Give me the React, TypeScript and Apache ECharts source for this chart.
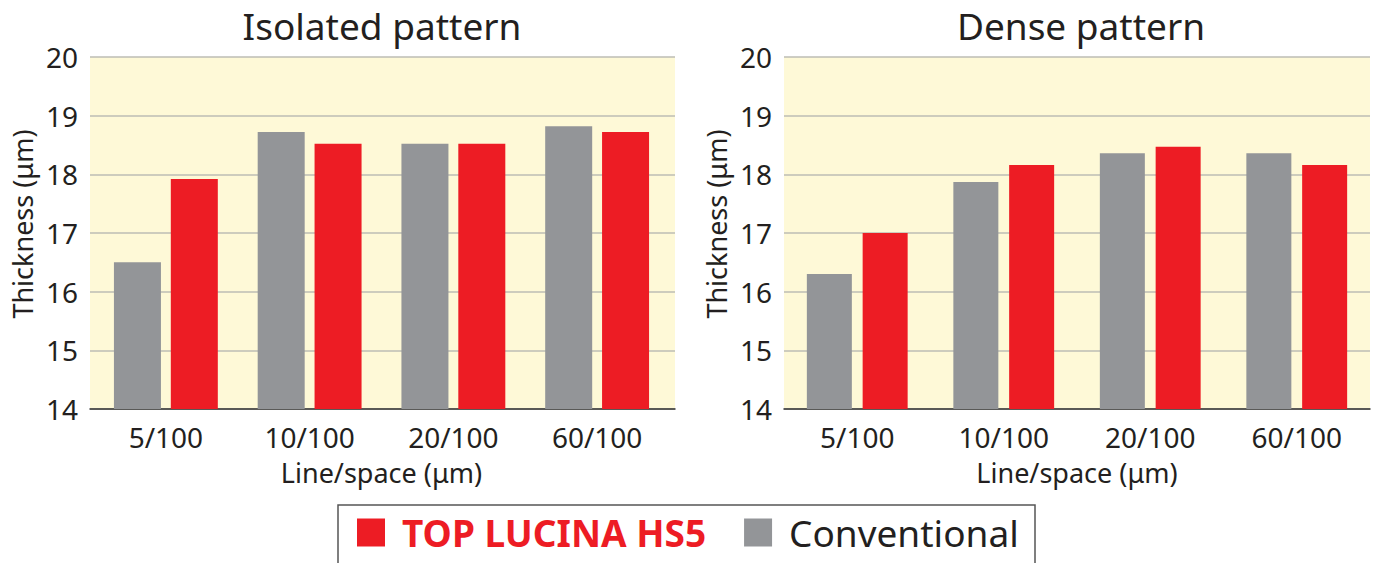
import React, { useEffect, useRef } from "react";
import * as echarts from "echarts";

const categories = ["5/100", "10/100", "20/100", "60/100"];
const isolatedConventional = [16.5, 18.72, 18.52, 18.82];
const isolatedHS5 = [17.92, 18.52, 18.52, 18.72];
const denseConventional = [16.3, 17.87, 18.36, 18.36];
const denseHS5 = [17.0, 18.16, 18.47, 18.16];
const titles = ["Isolated pattern", "Dense pattern"];
const seriesNames = ["TOP LUCINA HS5", "Conventional"];
const yTitle = "Thickness (μm)";
const xTitle = "Line/space (μm)";

const RED = "#ed1c24";
const GRAY = "#939598";
const TEXT = "#231f20";
const FONT = "'Noto Sans', 'Open Sans', sans-serif";

export default function App() {
  const ref = useRef<HTMLDivElement>(null);
  useEffect(() => {
    if (!ref.current) return;
    const chart = echarts.init(ref.current, undefined, { renderer: "svg" });
    // full plot areas (background, grid lines, axis line)
    const fullGrids = [
      { left: 90, top: 57, width: 585, height: 352 },
      { left: 784, top: 57, width: 586, height: 352 },
    ];
    // bar placement areas
    const barGrids = [
      { left: 94, top: 57, width: 575, height: 352 },
      { left: 784, top: 57, width: 586, height: 352 },
    ];
    const barWidths = [47, 45];
    const barGaps = ["21%", "24%"];

    const grid: any[] = [];
    const xAxis: any[] = [];
    const yAxis: any[] = [];
    fullGrids.forEach((g, i) => {
      grid.push({ ...g, show: true, backgroundColor: "#fef9d7", borderWidth: 0 });
      xAxis.push({
        type: "category",
        gridIndex: grid.length - 1,
        data: categories,
        axisLine: { show: true, lineStyle: { color: "#333", width: 1.5 } },
        axisTick: { show: false },
        axisLabel: { show: false },
      });
      yAxis.push({
        type: "value",
        gridIndex: grid.length - 1,
        min: 14,
        max: 20,
        interval: 1,
        axisLine: { show: false },
        axisTick: { show: false },
        splitLine: { show: true, lineStyle: { color: "#bdbcb4", width: 1.5 } },
        axisLabel: { fontSize: 28, color: TEXT, fontFamily: FONT, margin: 12 },
        name: yTitle,
        nameLocation: "middle",
        nameGap: 54,
        nameTextStyle: {
          fontSize: 27,
          color: TEXT,
          fontFamily: FONT,
          padding: [0, 0, 0, 18],
        },
      });
    });
    barGrids.forEach((g) => {
      grid.push({ ...g, show: false });
      xAxis.push({
        type: "category",
        gridIndex: grid.length - 1,
        data: categories,
        axisLine: { show: false },
        axisTick: { show: false },
        axisLabel: { fontSize: 28, color: TEXT, fontFamily: FONT, margin: 14 },
        name: xTitle,
        nameLocation: "middle",
        nameGap: 50,
        nameTextStyle: { fontSize: 27, color: TEXT, fontFamily: FONT },
      });
      yAxis.push({
        type: "value",
        gridIndex: grid.length - 1,
        min: 14,
        max: 20,
        interval: 1,
        show: false,
        splitLine: { show: false },
      });
    });

    const mk = (name: string, data: number[], panel: number, color: string) => ({
      type: "bar",
      name,
      xAxisIndex: 2 + panel,
      yAxisIndex: 2 + panel,
      data,
      barWidth: barWidths[panel],
      barGap: barGaps[panel],
      itemStyle: { color },
    });

    const titleStyle = { fontSize: 37, fontWeight: "normal", color: TEXT, fontFamily: FONT };
    chart.setOption({
      animation: false,
      title: [
        { text: titles[0], left: 377, top: 2, textAlign: "center", textStyle: titleStyle },
        { text: titles[1], left: 1076, top: 2, textAlign: "center", textStyle: titleStyle },
      ],
      grid,
      xAxis,
      yAxis,
      legend: {
        data: seriesNames,
        left: 357,
        top: 514,
        padding: 0,
        itemWidth: 28,
        itemHeight: 28,
        itemGap: 38,
        icon: "rect",
        formatter: (name: string) =>
          name === seriesNames[0] ? `{a|${name}}` : `{b|${name}}`,
        textStyle: {
          padding: [0, 0, 0, 12],
          rich: {
            a: { fontSize: 37, fontWeight: "bold", color: RED, fontFamily: FONT },
            b: { fontSize: 37, color: TEXT, fontFamily: FONT },
          },
        },
      },
      graphic: [
        {
          type: "rect",
          shape: { x: 338, y: 505, width: 697, height: 80 },
          style: { fill: "none", stroke: "#555", lineWidth: 1.5 },
          silent: true,
        },
      ],
      series: [
        mk(seriesNames[1], isolatedConventional, 0, GRAY),
        mk(seriesNames[0], isolatedHS5, 0, RED),
        mk(seriesNames[1], denseConventional, 1, GRAY),
        mk(seriesNames[0], denseHS5, 1, RED),
      ],
    });
    return () => chart.dispose();
  }, []);
  return (
    <div
      ref={ref}
      style={{ position: "fixed", left: 0, top: 0, width: 1375, height: 563, background: "#fff" }}
    />
  );
}
